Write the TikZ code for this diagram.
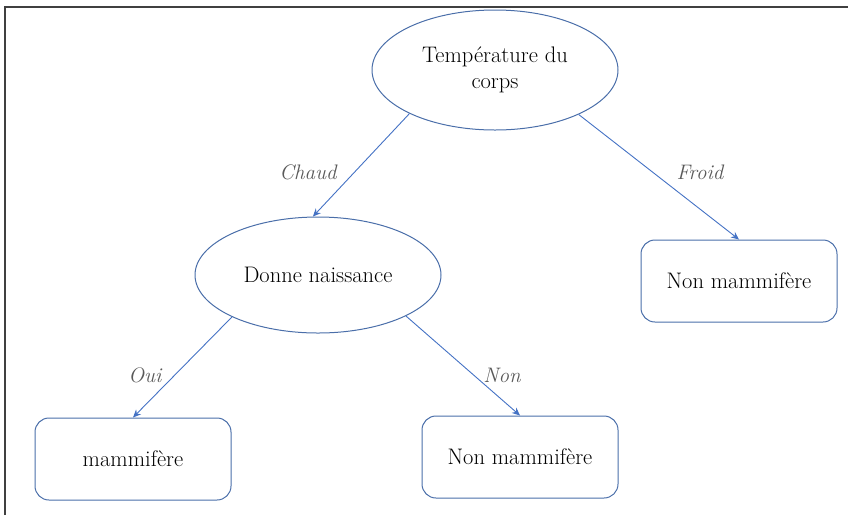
\documentclass[tikz,border=0pt]{standalone}
\usetikzlibrary{shapes.geometric,arrows.meta}
\definecolor{shapeblue}{HTML}{4A6EA9}
\definecolor{arrowblue}{HTML}{4472C4}
\definecolor{labelgray}{HTML}{595959}
\begin{document}
\begin{tikzpicture}[x=1pt,y=-1pt,
  ell/.style={ellipse,draw=shapeblue,line width=1pt,inner sep=0pt,align=center,font=\fontsize{22.5}{26}\selectfont},
  box/.style={rectangle,draw=shapeblue,line width=1pt,rounded corners=14pt,minimum width=196pt,minimum height=82pt,inner sep=0pt,font=\fontsize{22.5}{26}\selectfont},
  conn/.style={draw=arrowblue,line width=0.9pt,-{Stealth[length=8pt,width=7pt]}},
  lab/.style={text=labelgray,font=\fontsize{21}{24}\selectfont\itshape}]
\useasboundingbox (0,0) rectangle (848,515);
\draw[line width=1.2pt,draw=black!75] (5,515) -- (5,7) -- (848,7);
\node[ell,minimum width=246pt,minimum height=120pt] (t) at (495,70) {Température du\\corps};
\node[ell,minimum width=246pt,minimum height=116pt] (m) at (318,275) {Donne naissance};
\node[box] (f) at (739,281) {Non mammifère};
\node[box] (a) at (133,459) {mammifère};
\node[box] (n) at (520,457) {Non mammifère};
\draw[conn] (t.207) -- (m.95);
\draw[conn] (t.332) -- (f.north);
\draw[conn] (m.206) -- (a.north);
\draw[conn] (m.335) -- (n.north);
\node[lab] (l1) at (308,172) {Chaud};
\node[lab] (l2) at (700,172) {Froid};
\node[lab] (l3) at (145,375) {Oui};
\node[lab] (l4) at (502,375) {Non};
\end{tikzpicture}
\end{document}
